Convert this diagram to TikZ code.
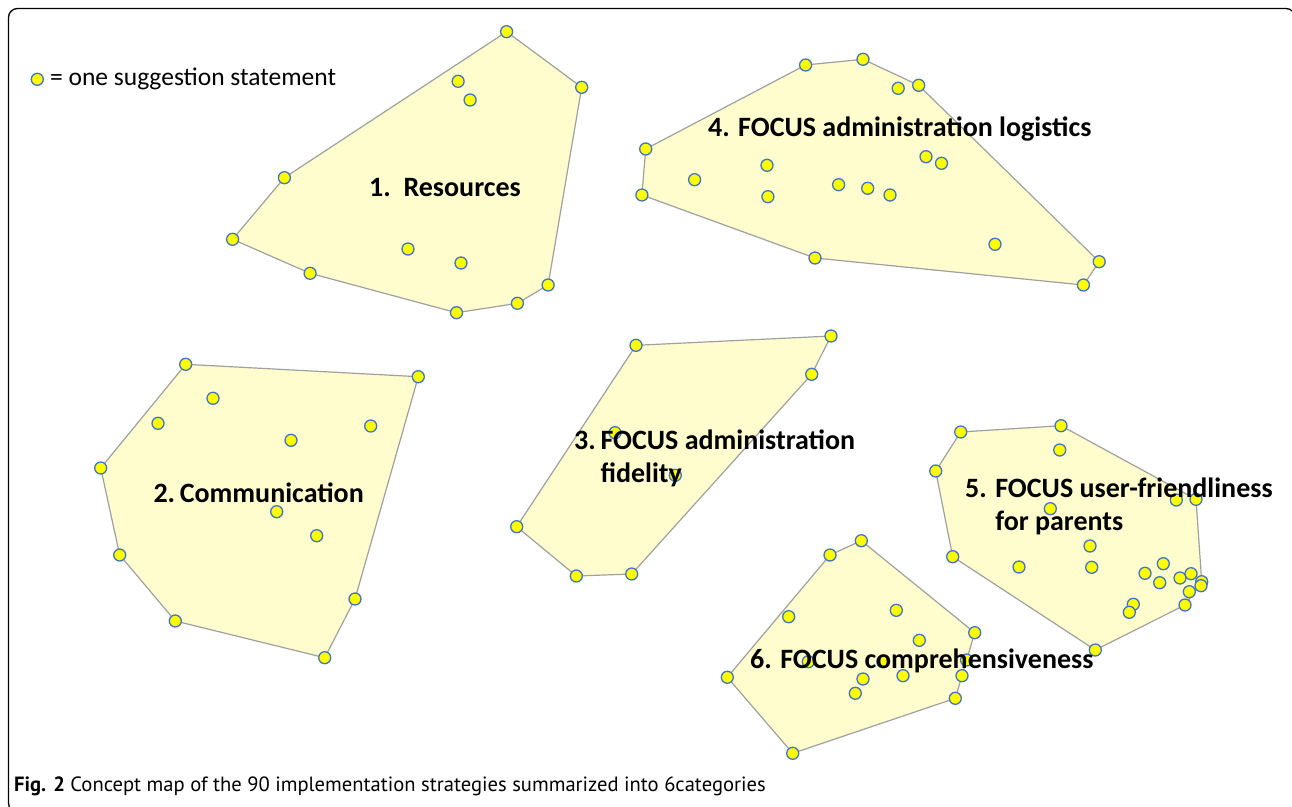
\documentclass[tikz,border=0pt]{standalone}
\usepackage{fontspec}
\setmainfont{Carlito}
\newfontfamily\capfont{PT Sans}
\usetikzlibrary{positioning,backgrounds}

\definecolor{hullfill}{RGB}{255,253,206}
\definecolor{hullline}{RGB}{160,160,160}
\definecolor{dotfill}{RGB}{255,255,0}
\definecolor{dotline}{RGB}{68,114,196}

\tikzset{
    stmt/.style={circle, draw=dotline, fill=dotfill, line width=1.3pt,
        inner sep=0pt, minimum size=12pt},
    hull/.style={draw=hullline, fill=hullfill, line width=1.2pt, line join=round},
    catlabel/.style={font=\bfseries\fontsize{28}{33}\selectfont, align=left,
        inner sep=0pt, anchor=west},
}

\begin{document}
\begin{tikzpicture}[x=1pt, y=-1pt]
    \useasboundingbox (0,0) rectangle (1292,806);
    \clip (0,0) rectangle (1292,806);
    \draw[line width=1.3pt, rounded corners=9pt] (8.5,8.5) rectangle (1295,812);

    % statements, hull corners first
    \foreach \x/\y [count=\i] in {506.6/31.7, 581.7/87.3, 548.1/285, 517.4/303.3,
        456.5/312.7, 310.1/273.3, 232.6/239.3, 284.4/177.7,
        458.1/81.3, 470.1/100, 408/249, 461/263}
        \node[stmt] (res\i) at (\x,\y) {};
    \foreach \x/\y [count=\i] in {185.7/364.3, 418.3/376.7, 355/599, 324.7/657.7,
        175.3/621, 119.7/555, 100.7/468,
        213/398.3, 158/423.3, 291/440.3, 370.7/426, 276.7/511.7, 316.7/535.7}
        \node[stmt] (com\i) at (\x,\y) {};
    \foreach \x/\y [count=\i] in {636/345.3, 831/336, 811.7/374.3, 631.7/574,
        576.3/576, 516.7/526.7,
        615/432.7, 675.3/475.3}
        \node[stmt] (fid\i) at (\x,\y) {};
    \foreach \x/\y [count=\i] in {805.6/65, 863/59.3, 918.7/85.3, 1099.2/261.7,
        1083.4/285, 815/258, 641.9/195, 645.7/149,
        898.2/88.3, 767/165.3, 694.6/179.7, 767.9/196.7, 838.6/184.7,
        867.7/188.3, 890/195, 926/156.7, 941.5/163.3, 995/244.3}
        \node[stmt] (log\i) at (\x,\y) {};
    \foreach \x/\y [count=\i] in {960.7/432, 1061/425.7, 1196/499.3, 1201.7/581.7,
        1185/605, 1095.3/650, 952.7/556.7, 935.7/471,
        1059.7/450, 1176.3/500, 1050.3/508.7, 1090/546, 1091.7/567.3,
        1019/567, 1145/573.3, 1163.3/563.7, 1159.7/582.7, 1180/578,
        1191/573.7, 1201/585.7, 1189.3/591.7, 1133.3/604.3, 1129.3/612.3}
        \node[stmt] (usr\i) at (\x,\y) {};
    \foreach \x/\y [count=\i] in {861.3/540.7, 974.7/632.7, 962/675.7, 955.3/698.3,
        792.7/753.3, 727.3/677.3, 830/555,
        788.7/616.7, 896.3/610.3, 919.3/640.3, 808.3/661.7, 882.7/661.7,
        966.5/660, 863/679, 903/675.7, 855.3/693.3}
        \node[stmt] (cmp\i) at (\x,\y) {};

    % cluster outlines behind the dots
    \begin{scope}[on background layer]
        \draw[hull] (res1.center) -- (res2.center) -- (res3.center) -- (res4.center)
            -- (res5.center) -- (res6.center) -- (res7.center) -- (res8.center) -- cycle;
        \draw[hull] (com1.center) -- (com2.center) -- (com3.center) -- (com4.center)
            -- (com5.center) -- (com6.center) -- (com7.center) -- cycle;
        \draw[hull] (fid1.center) -- (fid2.center) -- (fid3.center) -- (fid4.center)
            -- (fid5.center) -- (fid6.center) -- cycle;
        \draw[hull] (log1.center) -- (log2.center) -- (log3.center) -- (log4.center)
            -- (log5.center) -- (log6.center) -- (log7.center) -- (log8.center) -- cycle;
        \draw[hull] (usr1.center) -- (usr2.center) -- (usr3.center) -- (usr4.center)
            -- (usr5.center) -- (usr6.center) -- (usr7.center) -- (usr8.center) -- cycle;
        \draw[hull] (cmp1.center) -- (cmp2.center) -- (cmp3.center) -- (cmp4.center)
            -- (cmp5.center) -- (cmp6.center) -- (cmp7.center) -- cycle;
    \end{scope}

    % category names
    \node[catlabel] (lres) at (369,187.7) {1.\ \ Resources};
    \node[catlabel] (lcom) at (153.3,492.3) {2.\,Communication};
    \node[catlabel] (lfid) at (574,458.4) {3.\,FOCUS administration\\\hphantom{3.\,}fidelity};
    \node[catlabel] (llog) at (707.9,129) {4. FOCUS administration logistics};
    \node[catlabel] (lusr) at (965,506.4) {5. FOCUS user-friendliness\\\hphantom{5. }for parents};
    \node[catlabel] (lcmp) at (750,660.7) {6. FOCUS comprehensiveness};

    % key
    \node[stmt] (key) at (37.3,79.3) {};
    \node[right=6pt of key, inner sep=0pt, font=\fontsize{25.5}{30}\selectfont] (keytext)
        {= one suggestion statement};

    \node[anchor=base west, inner sep=0pt, font=\capfont\fontsize{20.6}{24}\selectfont]
        (caption) at (14,791) {\textbf{Fig. 2} Concept map of the 90 implementation strategies summarized into 6categories};
\end{tikzpicture}
\end{document}
